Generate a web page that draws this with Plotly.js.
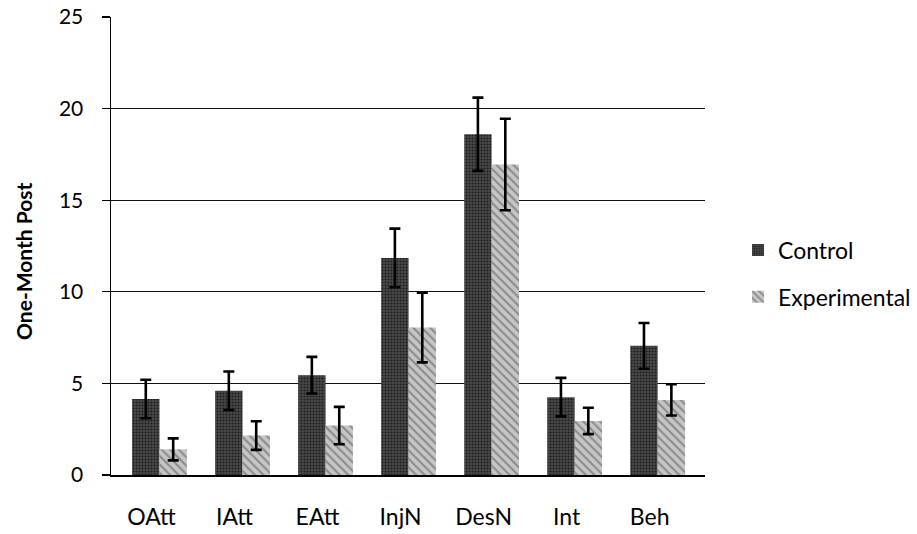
<!DOCTYPE html>
<html>
<head>
<meta charset="utf-8">
<script src="https://cdn.plot.ly/plotly-3.0.1.min.js"></script>
<style>html,body{margin:0;padding:0;background:#fff;}#chart{width:917px;height:534px;}</style>
</head>
<body>
<div id="chart"></div>
<script>
var categories = ["OAtt", "IAtt", "EAtt", "InjN", "DesN", "Int", "Beh"];
var controlValues = [4.15, 4.6, 5.45, 11.85, 18.6, 4.25, 7.05];
var controlErrors = [1.05, 1.05, 1.0, 1.6, 2.0, 1.05, 1.25];
var experimentalValues = [1.4, 2.15, 2.7, 8.05, 16.95, 2.95, 4.1];
var experimentalErrors = [0.6, 0.78, 1.02, 1.9, 2.5, 0.72, 0.85];
var yTicks = [0, 5, 10, 15, 20, 25];

var fontFam = "Lato, 'Open Sans', sans-serif";

var traces = [
  {
    type: "bar", name: "Control", legendgroup: "c", x: categories, y: controlValues,
    error_y: {type: "data", array: controlErrors, visible: true, color: "#000", thickness: 2.6, width: 5.5},
    marker: {color: "#3a3a3a", line: {width: 0},
      pattern: {shape: ".", fgcolor: "#1e1e1e", bgcolor: "#4a4a4a", size: 3, solidity: 0.4}}
  },
  {
    type: "bar", name: "Experimental", legendgroup: "e", x: categories, y: experimentalValues,
    error_y: {type: "data", array: experimentalErrors, visible: true, color: "#000", thickness: 2.6, width: 5.5},
    marker: {color: "#b8b8b8", line: {width: 0},
      pattern: {shape: "\\", fgcolor: "#8a8a8a", bgcolor: "#c6c6c6", size: 6, solidity: 0.35}}
  }
];

var layout = {
  width: 917, height: 534,
  margin: {l: 111, r: 212, t: 17, b: 59, autoexpand: false},
  paper_bgcolor: "#fff", plot_bgcolor: "#fff",
  font: {family: fontFam, size: 23, color: "#000"},
  barmode: "group", bargap: 0.34, bargroupgap: 0,
  showlegend: true,
  legend: {x: 1.0556, y: 0.44, xanchor: "left", yanchor: "middle", font: {size: 23},
    traceorder: "grouped", tracegroupgap: 14, itemwidth: 30},
  xaxis: {
    type: "category", range: [-0.584, 6.57],
    showgrid: false, zeroline: false, showline: true, linecolor: "#000", linewidth: 1.5,
    ticks: "", tickfont: {size: 23}, ticklabelstandoff: 21, ticklabelshift: -8
  },
  yaxis: {
    range: [0, 25], tickvals: yTicks, ticktext: yTicks.map(String),
    showgrid: true, gridcolor: "#111", gridwidth: 1.2,
    zeroline: false, showline: true, linecolor: "#000", linewidth: 1.5,
    ticks: "outside", ticklen: 8, tickcolor: "#000", tickwidth: 1.2,
    tickfont: {size: 21}, ticklabelstandoff: 14,
    title: {text: "<b>One-Month Post\u00a0\u00a0\u00a0\u00a0\u00a0\u00a0</b>", font: {size: 21}, standoff: 20}
  }
};

Plotly.newPlot("chart", traces, layout, {staticPlot: true, displayModeBar: false});
</script>
</body>
</html>
